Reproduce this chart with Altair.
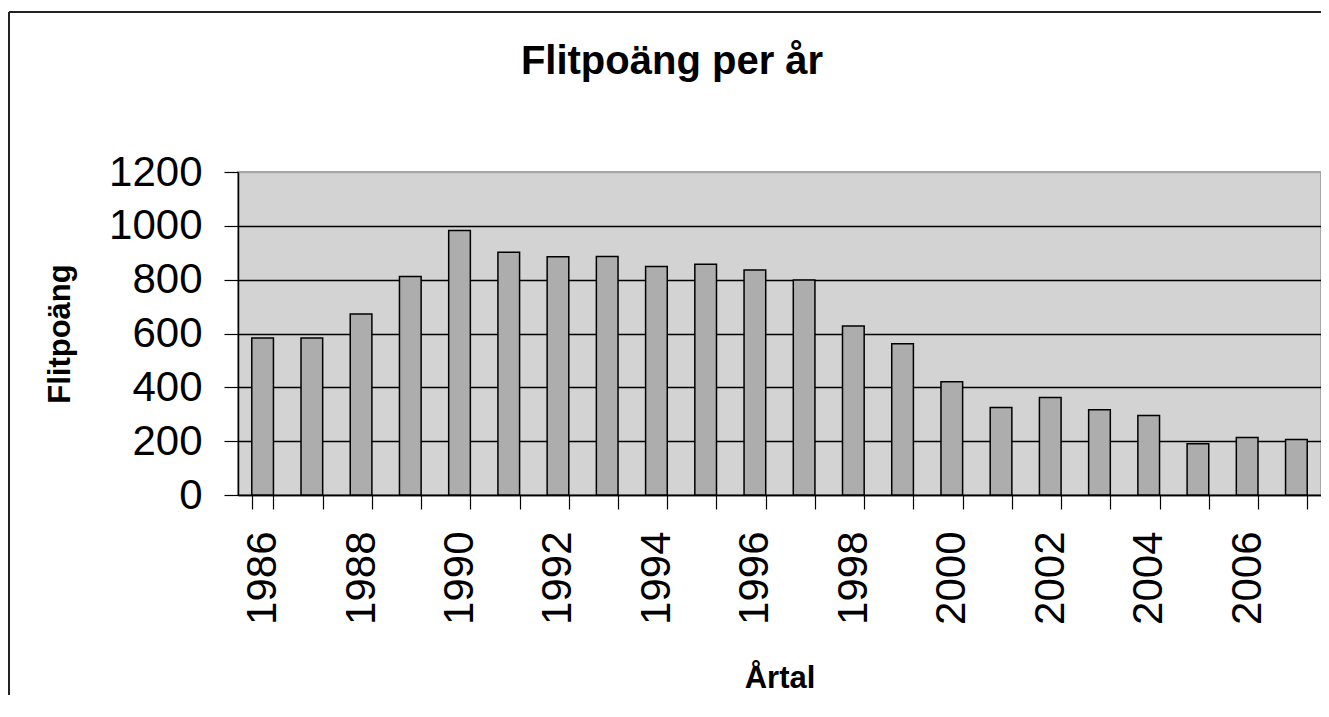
import altair as alt
import pandas as pd

years = list(range(1986, 2008))
points = [583, 583, 672, 812, 983, 902, 885, 886, 849, 857, 836,
          799, 628, 562, 421, 325, 362, 317, 295, 190, 214, 206]
title_text = ["Flitpoäng per år"]

df = pd.DataFrame({"År": years, "Flitpoäng": points})

FONT = "Liberation Sans"
W, H = 1083, 323

bars = alt.Chart(df).mark_bar(
    fill="#adadad", stroke="black", strokeWidth=1.5
).encode(
    x=alt.X(
        "År:O",
        title="Årtal",
        scale=alt.Scale(paddingInner=0.56, paddingOuter=0.28),
        axis=alt.Axis(
            labelAngle=270,
            labelExpr="datum.value % 2 == 0 ? datum.label : ''",
            labelFontSize=42,
            labelFont=FONT,
            labelColor="black",
            labelPadding=22,
            tickBand="extent",
            tickSize=14,
            tickColor="black",
            tickWidth=1.2,
            domainColor="black",
            domainWidth=1.5,
            titleFont=FONT,
            titleFontSize=31,
            titleFontWeight="bold",
            titleColor="black",
            titlePadding=39,
            grid=False,
        ),
    ),
    y=alt.Y(
        "Flitpoäng:Q",
        title="Flitpoäng",
        scale=alt.Scale(domain=[0, 1200], nice=False),
        axis=alt.Axis(
            values=[0, 200, 400, 600, 800, 1000, 1200],
            format="d",
            labelFontSize=42,
            labelFont=FONT,
            labelColor="black",
            labelPadding=22,
            tickSize=14,
            tickColor="black",
            tickWidth=1.2,
            domainColor="black",
            domainWidth=1.5,
            grid=True,
            gridColor={"condition": {"test": "datum.value == 1200", "value": "#a6a6a6"}, "value": "black"},
            gridWidth=1.5,
            titleFont=FONT,
            titleFontSize=31,
            titleFontWeight="bold",
            titleColor="black",
            titlePadding=32,
        ),
    ),
)

title = alt.Chart(pd.DataFrame({"t": title_text})).mark_text(
    font=FONT, fontSize=40, fontWeight="bold", color="black",
    align="center", baseline="alphabetic"
).encode(
    text="t:N",
    x=alt.value(672 - 238),
    y=alt.value(74 - 172),
)

one = pd.DataFrame({"a": [0]})
frame_top = alt.Chart(one).mark_rule(color="#222222", strokeWidth=2).encode(
    x=alt.value(-229),
    x2=alt.value(W + 50),
    y=alt.value(-160),
)
frame_left = alt.Chart(one).mark_rule(color="#222222", strokeWidth=2).encode(
    x=alt.value(-229),
    y=alt.value(-160),
    y2=alt.value(H + 260),
)

chart = alt.layer(frame_top, frame_left, bars, title).properties(
    width=W,
    height=H,
    autosize=alt.AutoSizeParams(type="none"),
    padding={"left": 230, "top": 164, "right": 0, "bottom": 200},
).configure(
    background="white",
    view=alt.ViewConfig(fill="#d3d3d3", stroke="#a6a6a6", strokeWidth=2),
)

chart.save("out.html", embed_options={"renderer": "svg", "actions": False})
